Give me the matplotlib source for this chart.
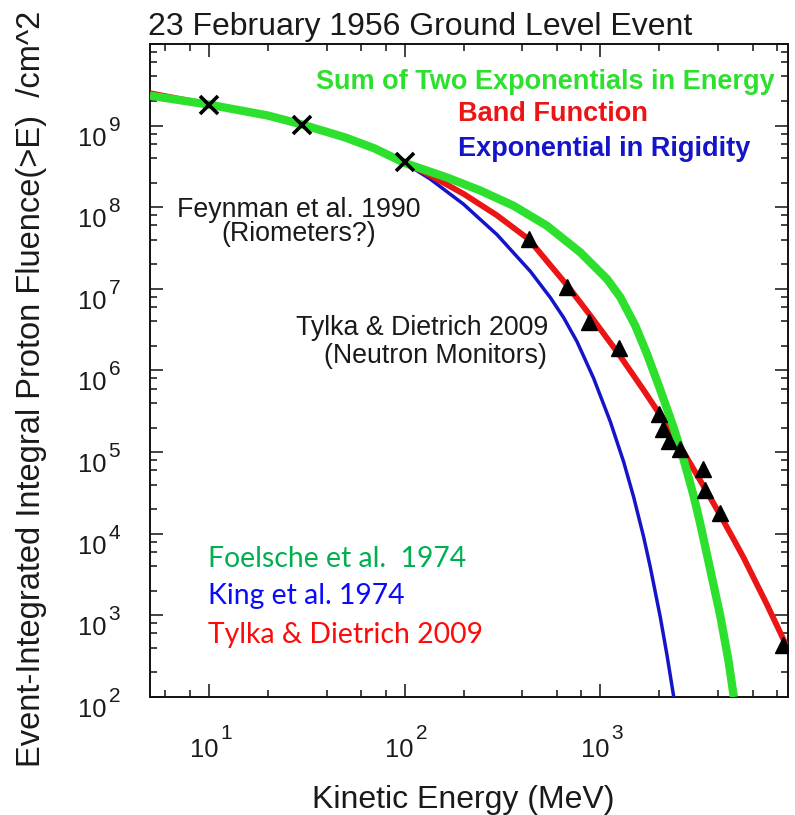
import matplotlib
matplotlib.use("Agg")
import matplotlib.pyplot as plt
from matplotlib.ticker import FixedLocator, NullFormatter

# ---- data -------------------------------------------------------------
# Sum of two exponentials in energy (Foelsche et al. 1974)
green_E = [5, 10, 20, 30, 50, 70, 100, 165, 244, 361, 534, 790, 1082, 1265,
           1509, 1731, 2025, 2368, 2663, 2995, 3240, 3644, 4100, 4519, 4810]
green_F = [2.33e9, 1.81e9, 1.33e9, 1.03e9, 7.13e8, 5.27e8, 3.49e8, 2.31e8,
           1.60e8, 1.04e8, 5.93e7, 2.80e7, 1.32e7, 7.91e6, 3.54e6, 1.60e6,
           5.80e5, 2.01e5, 8.14e4, 2.94e4, 1.33e4, 3.64e3, 991, 278, 100]

# Band function (Tylka & Dietrich 2009)
red_E = [5, 10, 20, 30, 50, 70, 100, 135, 200, 297, 430, 676, 871, 1240,
         1664, 2025, 2562, 3506, 4100, 4891, 5393, 7100, 8627, 9120]
red_F = [2.50e9, 1.81e9, 1.30e9, 1.03e9, 7.13e8, 5.31e8, 3.59e8, 2.46e8,
         1.46e8, 7.93e7, 4.07e7, 1.11e7, 5.03e6, 1.60e6, 5.76e5, 2.84e5,
         1.17e5, 3.26e4, 1.69e4, 7.87e3, 5.11e3, 1.36e3, 508, 379]

# Exponential in rigidity (King et al. 1974)
blue_E = [5, 10, 20, 30, 50, 70, 100, 135, 200, 297, 439, 555, 649, 760,
          924, 1125, 1315, 1479, 1664, 1800, 2025, 2190, 2373]
blue_F = [2.19e9, 1.77e9, 1.30e9, 1.0e9, 6.92e8, 5.15e8, 3.49e8, 2.22e8,
          1.09e8, 4.60e7, 1.64e7, 7.84e6, 4.46e6, 2.26e6, 8.05e5, 2.36e5,
          7.64e4, 2.84e4, 9.19e3, 3.91e3, 953, 329, 100]

# Feynman et al. 1990 (riometers)
feyn_E = [10, 30, 100]
feyn_F = [1.81e9, 1.02e9, 3.56e8]

# Tylka & Dietrich 2009 (neutron monitors)
nm_E = [430, 676, 871, 1240, 1985, 2090, 2233, 2541, 3367, 3436, 4100, 8570]
nm_F = [4.07e7, 1.04e7, 3.94e6, 1.87e6, 2.90e5, 1.90e5, 1.36e5, 1.08e5,
        6.13e4, 3.48e4, 1.80e4, 437]

x_major = [10, 100, 1000]
x_minor = [6, 8, 20, 40, 60, 80, 200, 400, 600, 800, 2000, 4000, 6000, 8000]
y_major_exp = [2, 3, 4, 5, 6, 7, 8, 9, 10]
y_minor_mant = [2, 4, 6, 8]

# ---- figure -----------------------------------------------------------
W, H = 795, 815
fig = plt.figure(figsize=(W / 100, H / 100), dpi=100)
plt.rcParams['font.family'] = ['Liberation Sans', 'DejaVu Sans']

L, R, T, B = 150, 788, 44, 697
ax = fig.add_axes([L / W, 1 - B / H, (R - L) / W, (B - T) / H])
ax.set_xscale('log')
ax.set_yscale('log')
ax.set_xlim(5, 9100)
ax.set_ylim(1e2, 1e10)

GREEN = '#2ee02e'
RED = '#ec1515'
BLUE = '#1414c8'

line_kw = dict(solid_joinstyle='round', solid_capstyle='butt')
ax.plot(blue_E, blue_F, color=BLUE, lw=2.5, zorder=3, **line_kw)
ax.plot(red_E, red_F, color=RED, lw=4.2, zorder=4, **line_kw)
ax.plot(green_E, green_F, color=GREEN, lw=6.0, zorder=5, **line_kw)
ax.plot(feyn_E, feyn_F, ls='none', marker='x', ms=13, mew=2.6,
        color='black', zorder=6)
ax.plot(nm_E, nm_F, ls='none', marker='^', ms=12, color='black', zorder=7)

# ticks: IDL style, inward on all four sides, labels drawn separately
ax.xaxis.set_major_locator(FixedLocator(x_major))
ax.xaxis.set_minor_locator(FixedLocator(x_minor))
y_major = [10.0 ** e for e in y_major_exp]
y_minor = [m * 10.0 ** e for e in y_major_exp[:-1] for m in y_minor_mant]
ax.yaxis.set_major_locator(FixedLocator(y_major))
ax.yaxis.set_minor_locator(FixedLocator(y_minor))
for axis in (ax.xaxis, ax.yaxis):
    axis.set_major_formatter(NullFormatter())
    axis.set_minor_formatter(NullFormatter())
ax.tick_params(which='both', direction='in', top=True, right=True,
               width=1.1, color='#111111')
ax.tick_params(which='major', length=9.5)
ax.tick_params(which='minor', length=5)
for s in ax.spines.values():
    s.set_linewidth(1.4)
    s.set_color('#111111')

TXT = '#1a1a1a'
px = 72 / 100  # points per pixel

# x tick labels: "10" with a raised exponent
for xv in x_major:
    e = len(str(xv)) - 1
    ax.annotate('10', xy=(xv, 0), xycoords=('data', 'axes fraction'),
                xytext=(9.2 * px, -60 * px), textcoords='offset points',
                ha='right', va='baseline', fontsize=18.4, color=TXT)
    ax.annotate(str(e), xy=(xv, 0), xycoords=('data', 'axes fraction'),
                xytext=(11.0 * px, -42 * px), textcoords='offset points',
                ha='left', va='baseline', fontsize=15, color=TXT)

# y tick labels
for e in y_major_exp[:-1]:
    ax.annotate('10', xy=(0, 10.0 ** e), xycoords=('axes fraction', 'data'),
                xytext=(-43 * px, -20 * px), textcoords='offset points',
                ha='right', va='baseline', fontsize=18.4, color=TXT)
    ax.annotate(str(e), xy=(0, 10.0 ** e), xycoords=('axes fraction', 'data'),
                xytext=(-41.5 * px, -5 * px), textcoords='offset points',
                ha='left', va='baseline', fontsize=15, color=TXT)


def ftext(x, y, s, **kw):
    fig.text(x / W, 1 - y / H, s, **kw)


ftext(148, 35, '23 February 1956 Ground Level Event', fontsize=23,
      ha='left', va='baseline', color=TXT)
ftext(463, 808, 'Kinetic Energy (MeV)', fontsize=23, ha='center',
      va='baseline', color=TXT)
ftext(32, 389, 'Event-Integrated Integral Proton Fluence(>E)  /cm^2',
      fontsize=23.5, rotation=90, ha='center', va='center', color=TXT)

ftext(299, 217, 'Feynman et al. 1990', fontsize=19.3, ha='center',
      va='baseline', color=TXT)
ftext(299, 241, '(Riometers?)', fontsize=19.3, ha='center',
      va='baseline', color=TXT)
ftext(548, 335, 'Tylka & Dietrich 2009', fontsize=19.3, ha='right',
      va='baseline', color=TXT)
ftext(547, 363, '(Neutron Monitors)', fontsize=19.3, ha='right',
      va='baseline', color=TXT)

ftext(775, 89, 'Sum of Two Exponentials in Energy', fontsize=19.5,
      fontweight='bold', ha='right', va='baseline', color=GREEN)
ftext(458, 121, 'Band Function', fontsize=19.5, fontweight='bold',
      ha='left', va='baseline', color=RED)
ftext(458, 156, 'Exponential in Rigidity', fontsize=19.5, fontweight='bold',
      ha='left', va='baseline', color=BLUE)

office = ['Lato', 'DejaVu Sans']
ftext(208, 567, 'Foelsche et al.  1974', fontsize=20.4, family=office,
      ha='left', va='baseline', color='#00b050')
ftext(208, 604, 'King et al. 1974', fontsize=20.4, family=office,
      ha='left', va='baseline', color='#0a0aff')
ftext(208, 643, 'Tylka & Dietrich 2009', fontsize=20.4, family=office,
      ha='left', va='baseline', color='#ff0a0a')

fig.savefig('out.png', dpi=100)
